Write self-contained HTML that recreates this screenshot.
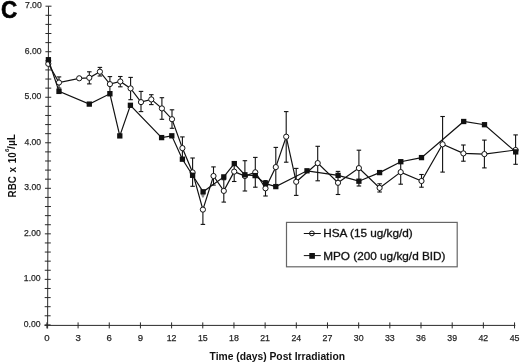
<!DOCTYPE html>
<html><head><meta charset="utf-8"><style>
html,body{margin:0;padding:0;background:#fff;}
body{width:520px;height:363px;overflow:hidden;position:relative;font-family:"Liberation Sans",sans-serif;}
</style></head><body>
<svg width="520" height="363" viewBox="0 0 520 363" style="position:absolute;left:0;top:0;will-change:transform">
<g stroke="#2a2a2a" stroke-width="1" fill="none">
<line x1="48.5" y1="6.3" x2="47.6" y2="328.5"/>
<line x1="44.5" y1="325.4" x2="515.3" y2="325.4"/>
<line x1="44.60" y1="324.90" x2="50.60" y2="324.90"/>
<line x1="44.63" y1="315.79" x2="50.63" y2="315.79"/>
<line x1="44.65" y1="306.69" x2="50.65" y2="306.69"/>
<line x1="44.68" y1="297.58" x2="50.68" y2="297.58"/>
<line x1="44.70" y1="288.48" x2="50.70" y2="288.48"/>
<line x1="44.73" y1="279.37" x2="50.73" y2="279.37"/>
<line x1="44.76" y1="270.26" x2="50.76" y2="270.26"/>
<line x1="44.78" y1="261.16" x2="50.78" y2="261.16"/>
<line x1="44.81" y1="252.05" x2="50.81" y2="252.05"/>
<line x1="44.83" y1="242.95" x2="50.83" y2="242.95"/>
<line x1="44.86" y1="233.84" x2="50.86" y2="233.84"/>
<line x1="44.88" y1="224.73" x2="50.88" y2="224.73"/>
<line x1="44.91" y1="215.63" x2="50.91" y2="215.63"/>
<line x1="44.94" y1="206.52" x2="50.94" y2="206.52"/>
<line x1="44.96" y1="197.42" x2="50.96" y2="197.42"/>
<line x1="44.99" y1="188.31" x2="50.99" y2="188.31"/>
<line x1="45.01" y1="179.20" x2="51.01" y2="179.20"/>
<line x1="45.04" y1="170.10" x2="51.04" y2="170.10"/>
<line x1="45.06" y1="160.99" x2="51.06" y2="160.99"/>
<line x1="45.09" y1="151.89" x2="51.09" y2="151.89"/>
<line x1="45.12" y1="142.78" x2="51.12" y2="142.78"/>
<line x1="45.14" y1="133.67" x2="51.14" y2="133.67"/>
<line x1="45.17" y1="124.57" x2="51.17" y2="124.57"/>
<line x1="45.19" y1="115.46" x2="51.19" y2="115.46"/>
<line x1="45.22" y1="106.36" x2="51.22" y2="106.36"/>
<line x1="45.24" y1="97.25" x2="51.24" y2="97.25"/>
<line x1="45.27" y1="88.14" x2="51.27" y2="88.14"/>
<line x1="45.29" y1="79.04" x2="51.29" y2="79.04"/>
<line x1="45.32" y1="69.93" x2="51.32" y2="69.93"/>
<line x1="45.35" y1="60.83" x2="51.35" y2="60.83"/>
<line x1="45.37" y1="51.72" x2="51.37" y2="51.72"/>
<line x1="45.40" y1="42.61" x2="51.40" y2="42.61"/>
<line x1="45.42" y1="33.51" x2="51.42" y2="33.51"/>
<line x1="45.45" y1="24.40" x2="51.45" y2="24.40"/>
<line x1="45.47" y1="15.30" x2="51.47" y2="15.30"/>
<line x1="45.50" y1="6.19" x2="51.50" y2="6.19"/>
<line x1="46.90" y1="322.4" x2="46.90" y2="328.4"/>
<line x1="78.08" y1="322.4" x2="78.08" y2="328.4"/>
<line x1="109.25" y1="322.4" x2="109.25" y2="328.4"/>
<line x1="140.43" y1="322.4" x2="140.43" y2="328.4"/>
<line x1="171.60" y1="322.4" x2="171.60" y2="328.4"/>
<line x1="202.78" y1="322.4" x2="202.78" y2="328.4"/>
<line x1="233.96" y1="322.4" x2="233.96" y2="328.4"/>
<line x1="265.13" y1="322.4" x2="265.13" y2="328.4"/>
<line x1="296.31" y1="322.4" x2="296.31" y2="328.4"/>
<line x1="327.48" y1="322.4" x2="327.48" y2="328.4"/>
<line x1="358.66" y1="322.4" x2="358.66" y2="328.4"/>
<line x1="389.84" y1="322.4" x2="389.84" y2="328.4"/>
<line x1="421.01" y1="322.4" x2="421.01" y2="328.4"/>
<line x1="452.19" y1="322.4" x2="452.19" y2="328.4"/>
<line x1="483.36" y1="322.4" x2="483.36" y2="328.4"/>
<line x1="514.54" y1="322.4" x2="514.54" y2="328.4"/>
</g>
<polyline points="48.30,63.80 59.00,82.50 79.20,78.30 89.30,77.80 99.90,71.70 109.90,84.10 120.30,81.50 130.60,88.40 141.00,102.10 151.30,99.40 161.90,108.40 172.00,119.20 182.40,148.10 192.60,172.40 202.90,209.60 213.50,176.00 223.80,190.90 234.20,171.60 244.90,176.00 255.30,172.30 265.50,188.30 275.80,167.10 286.20,136.70 296.20,181.80 317.70,163.10 338.00,182.80 358.90,168.10 379.60,187.90 400.70,172.10 421.50,181.00 442.60,144.30 463.40,153.40 484.40,154.10 515.60,150.00" fill="none" stroke="#111" stroke-width="1.2"/>
<g stroke="#111" stroke-width="1.1" fill="none">
<line x1="59.00" y1="76.90" x2="59.00" y2="88.10"/>
<line x1="56.75" y1="76.90" x2="61.25" y2="76.90"/>
<line x1="56.75" y1="88.10" x2="61.25" y2="88.10"/>
<line x1="89.30" y1="71.80" x2="89.30" y2="83.90"/>
<line x1="87.05" y1="71.80" x2="91.55" y2="71.80"/>
<line x1="87.05" y1="83.90" x2="91.55" y2="83.90"/>
<line x1="99.90" y1="67.40" x2="99.90" y2="76.00"/>
<line x1="97.65" y1="67.40" x2="102.15" y2="67.40"/>
<line x1="97.65" y1="76.00" x2="102.15" y2="76.00"/>
<line x1="109.90" y1="76.60" x2="109.90" y2="91.60"/>
<line x1="107.65" y1="76.60" x2="112.15" y2="76.60"/>
<line x1="107.65" y1="91.60" x2="112.15" y2="91.60"/>
<line x1="120.30" y1="76.50" x2="120.30" y2="86.80"/>
<line x1="118.05" y1="76.50" x2="122.55" y2="76.50"/>
<line x1="118.05" y1="86.80" x2="122.55" y2="86.80"/>
<line x1="130.60" y1="77.40" x2="130.60" y2="99.70"/>
<line x1="128.35" y1="77.40" x2="132.85" y2="77.40"/>
<line x1="128.35" y1="99.70" x2="132.85" y2="99.70"/>
<line x1="141.00" y1="91.40" x2="141.00" y2="111.60"/>
<line x1="138.75" y1="91.40" x2="143.25" y2="91.40"/>
<line x1="138.75" y1="111.60" x2="143.25" y2="111.60"/>
<line x1="151.30" y1="94.70" x2="151.30" y2="104.60"/>
<line x1="149.05" y1="94.70" x2="153.55" y2="94.70"/>
<line x1="149.05" y1="104.60" x2="153.55" y2="104.60"/>
<line x1="161.90" y1="97.70" x2="161.90" y2="119.30"/>
<line x1="159.65" y1="97.70" x2="164.15" y2="97.70"/>
<line x1="159.65" y1="119.30" x2="164.15" y2="119.30"/>
<line x1="172.00" y1="109.80" x2="172.00" y2="128.30"/>
<line x1="169.75" y1="109.80" x2="174.25" y2="109.80"/>
<line x1="169.75" y1="128.30" x2="174.25" y2="128.30"/>
<line x1="182.40" y1="136.90" x2="182.40" y2="159.30"/>
<line x1="180.15" y1="136.90" x2="184.65" y2="136.90"/>
<line x1="180.15" y1="159.30" x2="184.65" y2="159.30"/>
<line x1="192.60" y1="158.00" x2="192.60" y2="186.30"/>
<line x1="190.35" y1="158.00" x2="194.85" y2="158.00"/>
<line x1="190.35" y1="186.30" x2="194.85" y2="186.30"/>
<line x1="202.90" y1="209.60" x2="202.90" y2="224.40"/>
<line x1="200.65" y1="224.40" x2="205.15" y2="224.40"/>
<path d="M200.60,193.5 L205.20,193.5 L203.70,197.5 L202.10,197.5 Z" fill="#8a8a8a" stroke="none"/>
<line x1="213.50" y1="166.90" x2="213.50" y2="185.10"/>
<line x1="211.25" y1="166.90" x2="215.75" y2="166.90"/>
<line x1="211.25" y1="185.10" x2="215.75" y2="185.10"/>
<line x1="223.80" y1="179.70" x2="223.80" y2="202.10"/>
<line x1="221.55" y1="179.70" x2="226.05" y2="179.70"/>
<line x1="221.55" y1="202.10" x2="226.05" y2="202.10"/>
<line x1="234.20" y1="161.70" x2="234.20" y2="181.50"/>
<line x1="231.95" y1="161.70" x2="236.45" y2="161.70"/>
<line x1="231.95" y1="181.50" x2="236.45" y2="181.50"/>
<line x1="244.90" y1="160.70" x2="244.90" y2="191.00"/>
<line x1="242.65" y1="160.70" x2="247.15" y2="160.70"/>
<line x1="242.65" y1="191.00" x2="247.15" y2="191.00"/>
<line x1="255.30" y1="157.40" x2="255.30" y2="187.20"/>
<line x1="253.05" y1="157.40" x2="257.55" y2="157.40"/>
<line x1="253.05" y1="187.20" x2="257.55" y2="187.20"/>
<line x1="265.50" y1="180.60" x2="265.50" y2="196.00"/>
<line x1="263.25" y1="180.60" x2="267.75" y2="180.60"/>
<line x1="263.25" y1="196.00" x2="267.75" y2="196.00"/>
<line x1="275.80" y1="147.40" x2="275.80" y2="186.80"/>
<line x1="273.55" y1="147.40" x2="278.05" y2="147.40"/>
<line x1="273.55" y1="186.80" x2="278.05" y2="186.80"/>
<line x1="286.20" y1="111.60" x2="286.20" y2="162.20"/>
<line x1="283.95" y1="111.60" x2="288.45" y2="111.60"/>
<line x1="283.95" y1="162.20" x2="288.45" y2="162.20"/>
<line x1="296.20" y1="168.40" x2="296.20" y2="195.40"/>
<line x1="293.95" y1="168.40" x2="298.45" y2="168.40"/>
<line x1="293.95" y1="195.40" x2="298.45" y2="195.40"/>
<line x1="317.70" y1="146.30" x2="317.70" y2="180.80"/>
<line x1="315.45" y1="146.30" x2="319.95" y2="146.30"/>
<line x1="315.45" y1="180.80" x2="319.95" y2="180.80"/>
<line x1="338.00" y1="171.40" x2="338.00" y2="194.50"/>
<line x1="335.75" y1="171.40" x2="340.25" y2="171.40"/>
<line x1="335.75" y1="194.50" x2="340.25" y2="194.50"/>
<line x1="358.90" y1="150.20" x2="358.90" y2="186.00"/>
<line x1="356.65" y1="150.20" x2="361.15" y2="150.20"/>
<line x1="356.65" y1="186.00" x2="361.15" y2="186.00"/>
<line x1="379.60" y1="183.80" x2="379.60" y2="192.00"/>
<line x1="377.35" y1="183.80" x2="381.85" y2="183.80"/>
<line x1="377.35" y1="192.00" x2="381.85" y2="192.00"/>
<line x1="400.70" y1="161.70" x2="400.70" y2="184.20"/>
<line x1="398.45" y1="161.70" x2="402.95" y2="161.70"/>
<line x1="398.45" y1="184.20" x2="402.95" y2="184.20"/>
<line x1="421.50" y1="174.50" x2="421.50" y2="187.20"/>
<line x1="419.25" y1="174.50" x2="423.75" y2="174.50"/>
<line x1="419.25" y1="187.20" x2="423.75" y2="187.20"/>
<line x1="442.60" y1="116.50" x2="442.60" y2="172.10"/>
<line x1="440.35" y1="116.50" x2="444.85" y2="116.50"/>
<line x1="440.35" y1="172.10" x2="444.85" y2="172.10"/>
<line x1="463.40" y1="145.00" x2="463.40" y2="161.20"/>
<line x1="461.15" y1="145.00" x2="465.65" y2="145.00"/>
<line x1="461.15" y1="161.20" x2="465.65" y2="161.20"/>
<line x1="484.40" y1="140.10" x2="484.40" y2="167.90"/>
<line x1="482.15" y1="140.10" x2="486.65" y2="140.10"/>
<line x1="482.15" y1="167.90" x2="486.65" y2="167.90"/>
<line x1="515.60" y1="134.90" x2="515.60" y2="164.30"/>
<line x1="513.35" y1="134.90" x2="517.85" y2="134.90"/>
<line x1="513.35" y1="164.30" x2="517.85" y2="164.30"/>
</g>
<circle cx="48.30" cy="63.80" r="2.6" fill="#fff" stroke="#111" stroke-width="1"/>
<circle cx="59.00" cy="82.50" r="2.6" fill="#fff" stroke="#111" stroke-width="1"/>
<circle cx="79.20" cy="78.30" r="2.6" fill="#fff" stroke="#111" stroke-width="1"/>
<circle cx="89.30" cy="77.80" r="2.6" fill="#fff" stroke="#111" stroke-width="1"/>
<circle cx="99.90" cy="71.70" r="2.6" fill="#fff" stroke="#111" stroke-width="1"/>
<circle cx="109.90" cy="84.10" r="2.6" fill="#fff" stroke="#111" stroke-width="1"/>
<circle cx="120.30" cy="81.50" r="2.6" fill="#fff" stroke="#111" stroke-width="1"/>
<circle cx="130.60" cy="88.40" r="2.6" fill="#fff" stroke="#111" stroke-width="1"/>
<circle cx="141.00" cy="102.10" r="2.6" fill="#fff" stroke="#111" stroke-width="1"/>
<circle cx="151.30" cy="99.40" r="2.6" fill="#fff" stroke="#111" stroke-width="1"/>
<circle cx="161.90" cy="108.40" r="2.6" fill="#fff" stroke="#111" stroke-width="1"/>
<circle cx="172.00" cy="119.20" r="2.6" fill="#fff" stroke="#111" stroke-width="1"/>
<circle cx="182.40" cy="148.10" r="2.6" fill="#fff" stroke="#111" stroke-width="1"/>
<circle cx="192.60" cy="172.40" r="2.6" fill="#fff" stroke="#111" stroke-width="1"/>
<circle cx="202.90" cy="209.60" r="2.6" fill="#fff" stroke="#111" stroke-width="1"/>
<circle cx="213.50" cy="176.00" r="2.6" fill="#fff" stroke="#111" stroke-width="1"/>
<circle cx="223.80" cy="190.90" r="2.6" fill="#fff" stroke="#111" stroke-width="1"/>
<circle cx="234.20" cy="171.60" r="2.6" fill="#fff" stroke="#111" stroke-width="1"/>
<circle cx="244.90" cy="176.00" r="2.6" fill="#fff" stroke="#111" stroke-width="1"/>
<circle cx="255.30" cy="172.30" r="2.6" fill="#fff" stroke="#111" stroke-width="1"/>
<circle cx="265.50" cy="188.30" r="2.6" fill="#fff" stroke="#111" stroke-width="1"/>
<circle cx="275.80" cy="167.10" r="2.6" fill="#fff" stroke="#111" stroke-width="1"/>
<circle cx="286.20" cy="136.70" r="2.6" fill="#fff" stroke="#111" stroke-width="1"/>
<circle cx="296.20" cy="181.80" r="2.6" fill="#fff" stroke="#111" stroke-width="1"/>
<circle cx="317.70" cy="163.10" r="2.6" fill="#fff" stroke="#111" stroke-width="1"/>
<circle cx="338.00" cy="182.80" r="2.6" fill="#fff" stroke="#111" stroke-width="1"/>
<circle cx="358.90" cy="168.10" r="2.6" fill="#fff" stroke="#111" stroke-width="1"/>
<circle cx="379.60" cy="187.90" r="2.6" fill="#fff" stroke="#111" stroke-width="1"/>
<circle cx="400.70" cy="172.10" r="2.6" fill="#fff" stroke="#111" stroke-width="1"/>
<circle cx="421.50" cy="181.00" r="2.6" fill="#fff" stroke="#111" stroke-width="1"/>
<circle cx="442.60" cy="144.30" r="2.6" fill="#fff" stroke="#111" stroke-width="1"/>
<circle cx="463.40" cy="153.40" r="2.6" fill="#fff" stroke="#111" stroke-width="1"/>
<circle cx="484.40" cy="154.10" r="2.6" fill="#fff" stroke="#111" stroke-width="1"/>
<circle cx="515.60" cy="150.00" r="2.6" fill="#fff" stroke="#111" stroke-width="1"/>
<polyline points="48.40,59.70 59.00,91.40 89.30,104.10 109.90,93.80 119.80,135.90 130.40,105.30 161.60,137.60 171.80,135.80 182.40,159.20 192.60,175.30 203.10,191.80 223.80,176.90 234.30,163.60 244.90,174.80 255.10,175.60 265.60,183.70 275.80,186.60 307.00,170.80 338.10,175.40 358.90,181.20 379.60,172.60 400.80,161.70 421.50,157.60 463.70,121.50 484.50,124.70 515.70,151.90" fill="none" stroke="#111" stroke-width="1.2"/>
<rect x="45.75" y="57.05" width="5.3" height="5.3" fill="#111"/>
<rect x="56.35" y="88.75" width="5.3" height="5.3" fill="#111"/>
<rect x="86.65" y="101.45" width="5.3" height="5.3" fill="#111"/>
<rect x="107.25" y="91.15" width="5.3" height="5.3" fill="#111"/>
<rect x="117.15" y="133.25" width="5.3" height="5.3" fill="#111"/>
<rect x="127.75" y="102.65" width="5.3" height="5.3" fill="#111"/>
<rect x="158.95" y="134.95" width="5.3" height="5.3" fill="#111"/>
<rect x="169.15" y="133.15" width="5.3" height="5.3" fill="#111"/>
<rect x="179.75" y="156.55" width="5.3" height="5.3" fill="#111"/>
<rect x="189.95" y="172.65" width="5.3" height="5.3" fill="#111"/>
<rect x="200.45" y="189.15" width="5.3" height="5.3" fill="#111"/>
<rect x="221.15" y="174.25" width="5.3" height="5.3" fill="#111"/>
<rect x="231.65" y="160.95" width="5.3" height="5.3" fill="#111"/>
<rect x="242.25" y="172.15" width="5.3" height="5.3" fill="#111"/>
<rect x="252.45" y="172.95" width="5.3" height="5.3" fill="#111"/>
<rect x="262.95" y="181.05" width="5.3" height="5.3" fill="#111"/>
<rect x="273.15" y="183.95" width="5.3" height="5.3" fill="#111"/>
<rect x="304.35" y="168.15" width="5.3" height="5.3" fill="#111"/>
<rect x="335.45" y="172.75" width="5.3" height="5.3" fill="#111"/>
<rect x="356.25" y="178.55" width="5.3" height="5.3" fill="#111"/>
<rect x="376.95" y="169.95" width="5.3" height="5.3" fill="#111"/>
<rect x="398.15" y="159.05" width="5.3" height="5.3" fill="#111"/>
<rect x="418.85" y="154.95" width="5.3" height="5.3" fill="#111"/>
<rect x="461.05" y="118.85" width="5.3" height="5.3" fill="#111"/>
<rect x="481.85" y="122.05" width="5.3" height="5.3" fill="#111"/>
<rect x="513.05" y="149.25" width="5.3" height="5.3" fill="#111"/>
<text x="40.50" y="326.80" text-anchor="end" font-size="9.6" font-family="'Liberation Sans', sans-serif" fill="#262626" stroke="#262626" stroke-width="0.25" textLength="16.8" lengthAdjust="spacingAndGlyphs">0.00</text>
<text x="40.67" y="281.27" text-anchor="end" font-size="9.6" font-family="'Liberation Sans', sans-serif" fill="#262626" stroke="#262626" stroke-width="0.25" textLength="16.8" lengthAdjust="spacingAndGlyphs">1.00</text>
<text x="40.84" y="235.74" text-anchor="end" font-size="9.6" font-family="'Liberation Sans', sans-serif" fill="#262626" stroke="#262626" stroke-width="0.25" textLength="16.8" lengthAdjust="spacingAndGlyphs">2.00</text>
<text x="41.02" y="190.21" text-anchor="end" font-size="9.6" font-family="'Liberation Sans', sans-serif" fill="#262626" stroke="#262626" stroke-width="0.25" textLength="16.8" lengthAdjust="spacingAndGlyphs">3.00</text>
<text x="41.19" y="144.68" text-anchor="end" font-size="9.6" font-family="'Liberation Sans', sans-serif" fill="#262626" stroke="#262626" stroke-width="0.25" textLength="16.8" lengthAdjust="spacingAndGlyphs">4.00</text>
<text x="41.36" y="99.15" text-anchor="end" font-size="9.6" font-family="'Liberation Sans', sans-serif" fill="#262626" stroke="#262626" stroke-width="0.25" textLength="16.8" lengthAdjust="spacingAndGlyphs">5.00</text>
<text x="41.53" y="53.62" text-anchor="end" font-size="9.6" font-family="'Liberation Sans', sans-serif" fill="#262626" stroke="#262626" stroke-width="0.25" textLength="16.8" lengthAdjust="spacingAndGlyphs">6.00</text>
<text x="41.70" y="8.09" text-anchor="end" font-size="9.6" font-family="'Liberation Sans', sans-serif" fill="#262626" stroke="#262626" stroke-width="0.25" textLength="16.8" lengthAdjust="spacingAndGlyphs">7.00</text>
<text x="46.90" y="341.4" text-anchor="middle" font-size="9.6" font-family="'Liberation Sans', sans-serif" fill="#262626" stroke="#262626" stroke-width="0.25">0</text>
<text x="78.08" y="341.4" text-anchor="middle" font-size="9.6" font-family="'Liberation Sans', sans-serif" fill="#262626" stroke="#262626" stroke-width="0.25">3</text>
<text x="109.25" y="341.4" text-anchor="middle" font-size="9.6" font-family="'Liberation Sans', sans-serif" fill="#262626" stroke="#262626" stroke-width="0.25">6</text>
<text x="140.43" y="341.4" text-anchor="middle" font-size="9.6" font-family="'Liberation Sans', sans-serif" fill="#262626" stroke="#262626" stroke-width="0.25">9</text>
<text x="171.60" y="341.4" text-anchor="middle" font-size="9.6" font-family="'Liberation Sans', sans-serif" fill="#262626" stroke="#262626" stroke-width="0.25" textLength="9.8" lengthAdjust="spacingAndGlyphs">12</text>
<text x="202.78" y="341.4" text-anchor="middle" font-size="9.6" font-family="'Liberation Sans', sans-serif" fill="#262626" stroke="#262626" stroke-width="0.25" textLength="9.8" lengthAdjust="spacingAndGlyphs">15</text>
<text x="233.96" y="341.4" text-anchor="middle" font-size="9.6" font-family="'Liberation Sans', sans-serif" fill="#262626" stroke="#262626" stroke-width="0.25" textLength="9.8" lengthAdjust="spacingAndGlyphs">18</text>
<text x="265.13" y="341.4" text-anchor="middle" font-size="9.6" font-family="'Liberation Sans', sans-serif" fill="#262626" stroke="#262626" stroke-width="0.25" textLength="9.8" lengthAdjust="spacingAndGlyphs">21</text>
<text x="296.31" y="341.4" text-anchor="middle" font-size="9.6" font-family="'Liberation Sans', sans-serif" fill="#262626" stroke="#262626" stroke-width="0.25" textLength="9.8" lengthAdjust="spacingAndGlyphs">24</text>
<text x="327.48" y="341.4" text-anchor="middle" font-size="9.6" font-family="'Liberation Sans', sans-serif" fill="#262626" stroke="#262626" stroke-width="0.25" textLength="9.8" lengthAdjust="spacingAndGlyphs">27</text>
<text x="358.66" y="341.4" text-anchor="middle" font-size="9.6" font-family="'Liberation Sans', sans-serif" fill="#262626" stroke="#262626" stroke-width="0.25" textLength="9.8" lengthAdjust="spacingAndGlyphs">30</text>
<text x="389.84" y="341.4" text-anchor="middle" font-size="9.6" font-family="'Liberation Sans', sans-serif" fill="#262626" stroke="#262626" stroke-width="0.25" textLength="9.8" lengthAdjust="spacingAndGlyphs">33</text>
<text x="421.01" y="341.4" text-anchor="middle" font-size="9.6" font-family="'Liberation Sans', sans-serif" fill="#262626" stroke="#262626" stroke-width="0.25" textLength="9.8" lengthAdjust="spacingAndGlyphs">36</text>
<text x="452.19" y="341.4" text-anchor="middle" font-size="9.6" font-family="'Liberation Sans', sans-serif" fill="#262626" stroke="#262626" stroke-width="0.25" textLength="9.8" lengthAdjust="spacingAndGlyphs">39</text>
<text x="483.36" y="341.4" text-anchor="middle" font-size="9.6" font-family="'Liberation Sans', sans-serif" fill="#262626" stroke="#262626" stroke-width="0.25" textLength="9.8" lengthAdjust="spacingAndGlyphs">42</text>
<text x="514.54" y="341.4" text-anchor="middle" font-size="9.6" font-family="'Liberation Sans', sans-serif" fill="#262626" stroke="#262626" stroke-width="0.25" textLength="9.8" lengthAdjust="spacingAndGlyphs">45</text>
<text x="0" y="18.2" font-size="24.3" font-weight="bold" font-family="'Liberation Sans', sans-serif" fill="#000" stroke="#000" stroke-width="0.6" transform="translate(1.0,0) scale(0.925,1)">C</text>
<text x="209.6" y="359.6" font-size="10.3" font-weight="bold" font-family="'Liberation Sans', sans-serif" fill="#111" textLength="135.4" lengthAdjust="spacingAndGlyphs">Time (days) Post Irradiation</text>
<text transform="translate(15.5,197.4) rotate(-90)" font-size="10" font-weight="bold" font-family="'Liberation Sans', sans-serif" fill="#111" textLength="21.2" lengthAdjust="spacingAndGlyphs">RBC</text>
<text transform="translate(15.5,172.4) rotate(-90)" font-size="10" font-weight="bold" font-family="'Liberation Sans', sans-serif" fill="#111">x</text>
<text transform="translate(15.5,163.3) rotate(-90)" font-size="10" font-weight="bold" font-family="'Liberation Sans', sans-serif" fill="#111" textLength="10.9" lengthAdjust="spacingAndGlyphs">10</text>
<text transform="translate(9.3,152.1) rotate(-90)" font-size="6.2" font-weight="bold" font-family="'Liberation Sans', sans-serif" fill="#111">6</text>
<text transform="translate(15.4,148.9) rotate(-90)" font-size="10" font-weight="bold" font-family="'Liberation Sans', sans-serif" fill="#111" textLength="14.8" lengthAdjust="spacingAndGlyphs">/µL</text>
<rect x="286.5" y="222.4" width="170.7" height="44.4" fill="#fff" stroke="#666" stroke-width="1.2"/>
<line x1="303.8" y1="233.5" x2="320.8" y2="233.5" stroke="#111" stroke-width="1"/>
<circle cx="311.9" cy="233.4" r="2.4" fill="none" stroke="#111" stroke-width="1"/>
<line x1="303.8" y1="255.6" x2="320.8" y2="255.6" stroke="#111" stroke-width="1"/>
<rect x="309.3" y="253.0" width="5.6" height="5.8" fill="#111"/>
<text x="323.2" y="237.3" font-size="10.8" font-family="'Liberation Sans', sans-serif" fill="#111" stroke="#111" stroke-width="0.3" textLength="89.6" lengthAdjust="spacingAndGlyphs">HSA (15 ug/kg/d)</text>
<text x="323.2" y="259.9" font-size="10.8" font-family="'Liberation Sans', sans-serif" fill="#111" stroke="#111" stroke-width="0.3" textLength="122.3" lengthAdjust="spacingAndGlyphs">MPO (200 ug/kg/d BID)</text>
</svg>
</body></html>
